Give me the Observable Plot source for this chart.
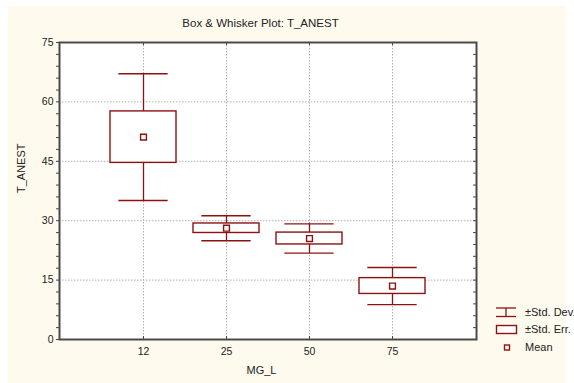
<!DOCTYPE html>
<html>
<head>
<meta charset="utf-8">
<script src="https://cdn.jsdelivr.net/npm/d3@7"></script>
<script src="https://cdn.jsdelivr.net/npm/@observablehq/plot@0.6"></script>
<style>
  html, body { margin: 0; padding: 0; background: #ffffff; width: 574px; height: 383px; overflow: hidden; }
  #bg { position: absolute; left: 8px; top: 6px; width: 558px; height: 377px; background: #fffaee; }
  #chart { position: absolute; left: 0; top: 0; }
  #legend { position: absolute; left: 490px; top: 300px; }
  svg text { font-family: "Liberation Sans", Arial, sans-serif; }
</style>
</head>
<body>
<div id="bg"></div>
<div id="chart"></div>
<svg id="legend" width="84" height="56"></svg>
<script>
const categories = ["12", "25", "50", "75"];
const means = [51.1, 28.1, 25.5, 13.5];
const stdErr = [6.5, 1.2, 1.5, 2.0];
const stdDev = [16.0, 3.15, 3.7, 4.7];
const yMajorTicks = [0, 15, 30, 45, 60, 75];
const yMinorTicks = [0, 3, 6, 9, 12, 15, 18, 21, 24, 27, 30, 33, 36, 39, 42, 45, 48, 51, 54, 57, 60, 63, 66, 69, 72, 75];
const yGrid = [15, 30, 45, 60];
const title = "Box & Whisker Plot: T_ANEST";
const xLabel = "MG_L";
const yLabel = "T_ANEST";
const legendLabels = ["±Std. Dev.", "±Std. Err.", "Mean"];

const data = categories.map((c, i) => ({
  cat: c, mean: means[i],
  seLo: means[i] - stdErr[i], seHi: means[i] + stdErr[i],
  sdLo: means[i] - stdDev[i], sdHi: means[i] + stdDev[i]
}));

const W = 574, H = 383;
const mL = 59, mR = 98, mT = 42, mB = 44;
const plotW = W - mL - mR, plotH = H - mT - mB;
const red = "#8c1212";
const step = plotW / 5;
const capInset = (0.8 * step - 0.6 * step) / 2;

const chart = Plot.plot({
  width: W, height: H,
  marginLeft: mL, marginRight: mR, marginTop: mT, marginBottom: mB,
  style: { background: "transparent", fontFamily: "'Liberation Sans', Arial, sans-serif", fontSize: "10.5px", color: "#222" },
  x: { type: "band", domain: categories, paddingInner: 0.2, paddingOuter: 0.6, label: null },
  y: { domain: [0, 75], label: null },
  marks: [
    Plot.frame({ fill: "white" }),
    Plot.gridY(yGrid, { stroke: "#b0b0b0", strokeOpacity: 1, strokeDasharray: "1.5,1.5" }),
    Plot.gridX(categories, { stroke: "#b0b0b0", strokeOpacity: 1, strokeDasharray: "1.5,1.5" }),
    Plot.ruleX(data, { x: "cat", y1: "sdLo", y2: "sdHi", stroke: red, strokeWidth: 1.3 }),
    Plot.tickY(data, { x: "cat", y: "sdHi", stroke: red, strokeWidth: 1.4, insetLeft: capInset, insetRight: capInset }),
    Plot.tickY(data, { x: "cat", y: "sdLo", stroke: red, strokeWidth: 1.4, insetLeft: capInset, insetRight: capInset }),
    Plot.barY(data, { x: "cat", y1: "seLo", y2: "seHi", fill: "white", stroke: red, strokeWidth: 1.4 }),
    Plot.dot(data, { x: "cat", y: "mean", symbol: "square", r: 3.3, fill: "white", stroke: red, strokeWidth: 1.4 }),
    Plot.tickY(yMinorTicks, { y: d => d, stroke: "#444", insetLeft: plotW - 3 }),
    Plot.tickX(categories, { x: d => d, stroke: "#444", insetBottom: plotH - 3 }),
    Plot.tickX(categories, { x: d => d, stroke: "#444", insetTop: plotH - 3 }),
    Plot.axisY({ ticks: yMinorTicks, tickSize: 3, tickPadding: 3, stroke: "#444", tickFormat: d => (yMajorTicks.includes(d) ? String(d) : ""), fontSize: 10.5, fill: "#222" }),
    Plot.axisX({ tickSize: 0, tickPadding: 8, fontSize: 10.5, fill: "#222" }),
    Plot.frame({ stroke: "#4a4a4a", strokeWidth: 2 }),
    Plot.text([title], { text: d => d, frameAnchor: "top", dx: -7.5, dy: -23.7, fontSize: 11.5, fill: "#222" }),
    Plot.text([xLabel], { text: d => d, frameAnchor: "bottom", dx: -6.5, dy: 34.8, fontSize: 11, fill: "#222" }),
    Plot.text([yLabel], { text: d => d, frameAnchor: "left", dx: -38, dy: 2, rotate: -90, fontSize: 11, fill: "#222" })
  ]
});
document.getElementById("chart").appendChild(chart);

// Legend
const lg = d3.select("#legend");
lg.append("line").attr("x1", 6).attr("x2", 26).attr("y1", 8).attr("y2", 8).attr("stroke", red).attr("stroke-width", 1.3);
lg.append("line").attr("x1", 6).attr("x2", 26).attr("y1", 16.5).attr("y2", 16.5).attr("stroke", red).attr("stroke-width", 1.3);
lg.append("line").attr("x1", 16).attr("x2", 16).attr("y1", 8).attr("y2", 16.5).attr("stroke", red).attr("stroke-width", 1.3);
lg.append("rect").attr("x", 6.5).attr("y", 25.5).attr("width", 20).attr("height", 8).attr("fill", "white").attr("stroke", red).attr("stroke-width", 1.4);
lg.append("rect").attr("x", 14.5).attr("y", 45).attr("width", 5).attr("height", 5).attr("fill", "white").attr("stroke", red).attr("stroke-width", 1.4);
const rowsY = [16.3, 33.3, 51];
legendLabels.forEach((t, i) => {
  lg.append("text").attr("x", 35).attr("y", rowsY[i]).attr("font-size", 11).attr("fill", "#222").text(t);
});
</script>
</body>
</html>
